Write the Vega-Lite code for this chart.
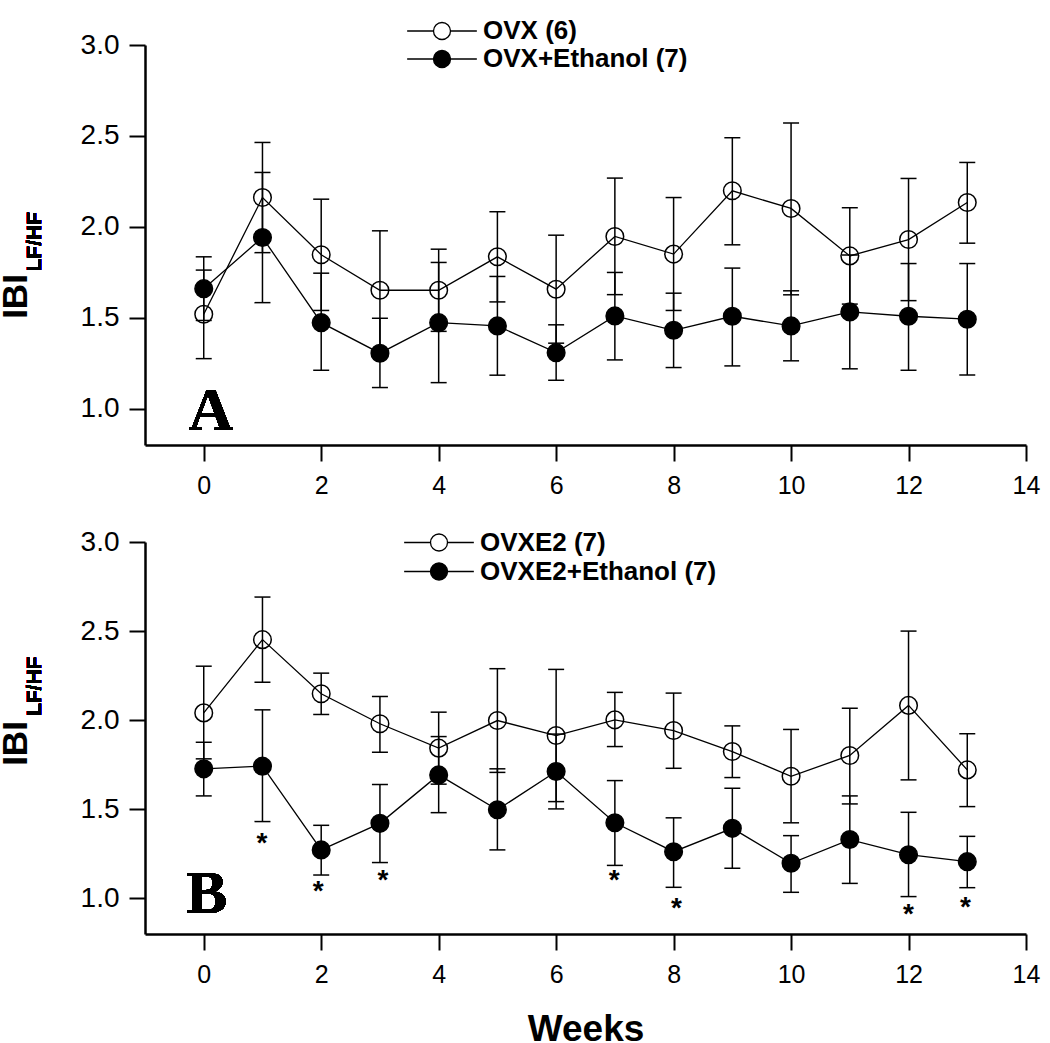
{
  "$schema": "https://vega.github.io/schema/vega-lite/v6.json",
  "background": "white",
  "padding": {"left": -2, "top": 18, "right": 5, "bottom": 0},
  "spacing": 97,
  "bounds": "flush",
  "config": {
    "view": {"stroke": null},
    "font": "Liberation Sans",
    "axis": {"domainColor": "black", "domainWidth": 2.5, "tickColor": "black", "tickWidth": 2, "tickSize": 16, "labelColor": "black", "labelFont": "Liberation Sans", "grid": false, "titleColor": "black", "titleFont": "Liberation Sans", "titleFontWeight": "bold", "labelFlush": false, "labelOverlap": false, "labelBound": false},
    "axisX": {"labelFontSize": 25, "labelPadding": 12, "titleFontSize": 37},
    "axisY": {"labelFontSize": 28, "labelPadding": 10, "titleFontSize": 35},
    "legend": {"labelFont": "Liberation Sans", "labelFontWeight": "bold", "labelFontSize": 26, "labelColor": "black", "labelLimit": 0, "symbolStrokeColor": "black", "symbolStrokeWidth": 1.3, "padding": 0, "offset": 0}
  },
  "resolve": {"scale": {"fill": "independent"}},
  "datasets": {
    "A": [
      {"week": 0, "group": "OVX (6)", "mean": 1.519, "lo": 1.275, "hi": 1.762},
      {"week": 1, "group": "OVX (6)", "mean": 2.161, "lo": 1.858, "hi": 2.464},
      {"week": 2, "group": "OVX (6)", "mean": 1.846, "lo": 1.540, "hi": 2.152},
      {"week": 3, "group": "OVX (6)", "mean": 1.651, "lo": 1.324, "hi": 1.978},
      {"week": 4, "group": "OVX (6)", "mean": 1.651, "lo": 1.425, "hi": 1.877},
      {"week": 5, "group": "OVX (6)", "mean": 1.835, "lo": 1.587, "hi": 2.083},
      {"week": 6, "group": "OVX (6)", "mean": 1.657, "lo": 1.360, "hi": 1.954},
      {"week": 7, "group": "OVX (6)", "mean": 1.947, "lo": 1.627, "hi": 2.268},
      {"week": 8, "group": "OVX (6)", "mean": 1.850, "lo": 1.540, "hi": 2.161},
      {"week": 9, "group": "OVX (6)", "mean": 2.198, "lo": 1.901, "hi": 2.490},
      {"week": 10, "group": "OVX (6)", "mean": 2.101, "lo": 1.626, "hi": 2.571},
      {"week": 11, "group": "OVX (6)", "mean": 1.840, "lo": 1.575, "hi": 2.105},
      {"week": 12, "group": "OVX (6)", "mean": 1.930, "lo": 1.594, "hi": 2.266},
      {"week": 13, "group": "OVX (6)", "mean": 2.134, "lo": 1.910, "hi": 2.354},
      {"week": 0, "group": "OVX+Ethanol (7)", "mean": 1.660, "lo": 1.485, "hi": 1.835},
      {"week": 1, "group": "OVX+Ethanol (7)", "mean": 1.941, "lo": 1.583, "hi": 2.299},
      {"week": 2, "group": "OVX+Ethanol (7)", "mean": 1.473, "lo": 1.211, "hi": 1.745},
      {"week": 3, "group": "OVX+Ethanol (7)", "mean": 1.305, "lo": 1.116, "hi": 1.497},
      {"week": 4, "group": "OVX+Ethanol (7)", "mean": 1.473, "lo": 1.143, "hi": 1.804},
      {"week": 5, "group": "OVX+Ethanol (7)", "mean": 1.455, "lo": 1.184, "hi": 1.727},
      {"week": 6, "group": "OVX+Ethanol (7)", "mean": 1.308, "lo": 1.156, "hi": 1.461},
      {"week": 7, "group": "OVX+Ethanol (7)", "mean": 1.510, "lo": 1.268, "hi": 1.749},
      {"week": 8, "group": "OVX+Ethanol (7)", "mean": 1.431, "lo": 1.226, "hi": 1.635},
      {"week": 9, "group": "OVX+Ethanol (7)", "mean": 1.508, "lo": 1.235, "hi": 1.773},
      {"week": 10, "group": "OVX+Ethanol (7)", "mean": 1.455, "lo": 1.263, "hi": 1.648},
      {"week": 11, "group": "OVX+Ethanol (7)", "mean": 1.532, "lo": 1.219, "hi": 1.845},
      {"week": 12, "group": "OVX+Ethanol (7)", "mean": 1.508, "lo": 1.211, "hi": 1.798},
      {"week": 13, "group": "OVX+Ethanol (7)", "mean": 1.492, "lo": 1.185, "hi": 1.798}
    ],
    "B": [
      {"week": 0, "group": "OVXE2 (7)", "mean": 2.041, "lo": 1.783, "hi": 2.303},
      {"week": 1, "group": "OVXE2 (7)", "mean": 2.452, "lo": 2.213, "hi": 2.691},
      {"week": 2, "group": "OVXE2 (7)", "mean": 2.148, "lo": 2.032, "hi": 2.264},
      {"week": 3, "group": "OVXE2 (7)", "mean": 1.980, "lo": 1.820, "hi": 2.133},
      {"week": 4, "group": "OVXE2 (7)", "mean": 1.843, "lo": 1.641, "hi": 2.045},
      {"week": 5, "group": "OVXE2 (7)", "mean": 1.998, "lo": 1.707, "hi": 2.289},
      {"week": 6, "group": "OVXE2 (7)", "mean": 1.914, "lo": 1.543, "hi": 2.285},
      {"week": 7, "group": "OVXE2 (7)", "mean": 2.002, "lo": 1.852, "hi": 2.156},
      {"week": 8, "group": "OVXE2 (7)", "mean": 1.942, "lo": 1.730, "hi": 2.152},
      {"week": 9, "group": "OVXE2 (7)", "mean": 1.824, "lo": 1.678, "hi": 1.968},
      {"week": 10, "group": "OVXE2 (7)", "mean": 1.685, "lo": 1.424, "hi": 1.948},
      {"week": 11, "group": "OVXE2 (7)", "mean": 1.802, "lo": 1.530, "hi": 2.067},
      {"week": 12, "group": "OVXE2 (7)", "mean": 2.083, "lo": 1.665, "hi": 2.500},
      {"week": 13, "group": "OVXE2 (7)", "mean": 1.721, "lo": 1.515, "hi": 1.924},
      {"week": 0, "group": "OVXE2+Ethanol (7)", "mean": 1.727, "lo": 1.575, "hi": 1.876},
      {"week": 1, "group": "OVXE2+Ethanol (7)", "mean": 1.742, "lo": 1.431, "hi": 2.058},
      {"week": 2, "group": "OVXE2+Ethanol (7)", "mean": 1.272, "lo": 1.131, "hi": 1.410},
      {"week": 3, "group": "OVXE2+Ethanol (7)", "mean": 1.421, "lo": 1.201, "hi": 1.639},
      {"week": 4, "group": "OVXE2+Ethanol (7)", "mean": 1.693, "lo": 1.481, "hi": 1.908},
      {"week": 5, "group": "OVXE2+Ethanol (7)", "mean": 1.497, "lo": 1.272, "hi": 1.727},
      {"week": 6, "group": "OVXE2+Ethanol (7)", "mean": 1.712, "lo": 1.502, "hi": 1.922},
      {"week": 7, "group": "OVXE2+Ethanol (7)", "mean": 1.424, "lo": 1.185, "hi": 1.661},
      {"week": 8, "group": "OVXE2+Ethanol (7)", "mean": 1.262, "lo": 1.062, "hi": 1.452},
      {"week": 9, "group": "OVXE2+Ethanol (7)", "mean": 1.393, "lo": 1.169, "hi": 1.618},
      {"week": 10, "group": "OVXE2+Ethanol (7)", "mean": 1.197, "lo": 1.034, "hi": 1.352},
      {"week": 11, "group": "OVXE2+Ethanol (7)", "mean": 1.330, "lo": 1.084, "hi": 1.575},
      {"week": 12, "group": "OVXE2+Ethanol (7)", "mean": 1.245, "lo": 1.010, "hi": 1.483},
      {"week": 13, "group": "OVXE2+Ethanol (7)", "mean": 1.206, "lo": 1.060, "hi": 1.348}
    ],
    "stars": [
      {"week": 0.99, "y": 1.345},
      {"week": 1.95, "y": 1.073},
      {"week": 3.05, "y": 1.139},
      {"week": 6.99, "y": 1.134},
      {"week": 8.05, "y": 0.980},
      {"week": 12.0, "y": 0.946},
      {"week": 12.97, "y": 0.984}
    ]
  },
  "vconcat": [
    {
      "width": 881,
      "height": 400,
      "data": {"name": "A"},
      "layer": [
        {
          "mark": {"type": "point", "filled": true, "size": 310, "stroke": "black", "strokeWidth": 1.5, "opacity": 1},
          "encoding": {
            "x": {"field": "week", "type": "quantitative", "scale": {"domain": [-1, 14], "nice": false, "zero": false}, "axis": {"values": [0, 2, 4, 6, 8, 10, 12, 14], "format": "d", "title": null}},
            "y": {"field": "mean", "type": "quantitative", "scale": {"domain": [0.8, 3.0], "nice": false, "zero": false}, "axis": {"values": [1.0, 1.5, 2.0, 2.5, 3.0], "format": ".1f", "title": "IBI", "titleX": -119, "titleY": 251, "titleAlign": "center", "titleBaseline": "alphabetic", "titleAngle": 270}},
            "fill": {"field": "group", "type": "nominal", "scale": {"domain": ["OVX (6)", "OVX+Ethanol (7)"], "range": ["white", "black"]}, "legend": {"title": null, "orient": "none", "legendX": 284, "legendY": -27, "symbolType": "M-4.1,0H-1M1,0H4.1M-1,0A1,1,0,1,1,1,0A1,1,0,1,1,-1,0Z", "symbolSize": 289, "labelOffset": 28, "rowPadding": 2}}
          }
        },
        {
          "mark": {"type": "rule", "strokeWidth": 1.5, "color": "black"},
          "encoding": {"x": {"field": "week", "type": "quantitative"}, "y": {"field": "lo", "type": "quantitative"}, "y2": {"field": "hi"}}
        },
        {
          "mark": {"type": "tick", "orient": "horizontal", "size": 16, "thickness": 1.5, "color": "black", "opacity": 1},
          "encoding": {"x": {"field": "week", "type": "quantitative"}, "y": {"field": "lo", "type": "quantitative"}}
        },
        {
          "mark": {"type": "tick", "orient": "horizontal", "size": 16, "thickness": 1.5, "color": "black", "opacity": 1},
          "encoding": {"x": {"field": "week", "type": "quantitative"}, "y": {"field": "hi", "type": "quantitative"}}
        },
        {
          "mark": {"type": "line", "strokeWidth": 1.3, "color": "black"},
          "encoding": {"x": {"field": "week", "type": "quantitative"}, "y": {"field": "mean", "type": "quantitative"}, "detail": {"field": "group"}}
        },
        {
          "mark": {"type": "text", "text": "LF/HF", "angle": 270, "dy": -104, "align": "center", "baseline": "alphabetic", "font": "Liberation Sans", "fontWeight": "bold", "fontSize": 21, "color": "black"},
          "encoding": {"x": {"datum": -1, "type": "quantitative"}, "y": {"datum": 1.918, "type": "quantitative"}}
        },
        {
          "mark": {"type": "text", "text": "A", "align": "center", "baseline": "alphabetic", "font": "Liberation Serif", "fontWeight": "bold", "fontSize": 62, "color": "black"},
          "encoding": {"x": {"datum": 0.12, "type": "quantitative"}, "y": {"datum": 0.882, "type": "quantitative"}}
        }
      ]
    },
    {
      "width": 881,
      "height": 392,
      "data": {"name": "B"},
      "layer": [
        {
          "mark": {"type": "point", "filled": true, "size": 310, "stroke": "black", "strokeWidth": 1.5, "opacity": 1},
          "encoding": {
            "x": {"field": "week", "type": "quantitative", "scale": {"domain": [-1, 14], "nice": false, "zero": false}, "axis": {"values": [0, 2, 4, 6, 8, 10, 12, 14], "format": "d", "title": "Weeks", "titleY": 106, "titleBaseline": "alphabetic"}},
            "y": {"field": "mean", "type": "quantitative", "scale": {"domain": [0.8, 3.0], "nice": false, "zero": false}, "axis": {"values": [1.0, 1.5, 2.0, 2.5, 3.0], "format": ".1f", "title": "IBI", "titleX": -119, "titleY": 201, "titleAlign": "center", "titleBaseline": "alphabetic", "titleAngle": 270}},
            "fill": {"field": "group", "type": "nominal", "scale": {"domain": ["OVXE2 (7)", "OVXE2+Ethanol (7)"], "range": ["white", "black"]}, "legend": {"title": null, "orient": "none", "legendX": 281, "legendY": -12.5, "symbolType": "M-4.1,0H-1M1,0H4.1M-1,0A1,1,0,1,1,1,0A1,1,0,1,1,-1,0Z", "symbolSize": 289, "labelOffset": 28, "rowPadding": 3}}
          }
        },
        {
          "mark": {"type": "rule", "strokeWidth": 1.5, "color": "black"},
          "encoding": {"x": {"field": "week", "type": "quantitative"}, "y": {"field": "lo", "type": "quantitative"}, "y2": {"field": "hi"}}
        },
        {
          "mark": {"type": "tick", "orient": "horizontal", "size": 16, "thickness": 1.5, "color": "black", "opacity": 1},
          "encoding": {"x": {"field": "week", "type": "quantitative"}, "y": {"field": "lo", "type": "quantitative"}}
        },
        {
          "mark": {"type": "tick", "orient": "horizontal", "size": 16, "thickness": 1.5, "color": "black", "opacity": 1},
          "encoding": {"x": {"field": "week", "type": "quantitative"}, "y": {"field": "hi", "type": "quantitative"}}
        },
        {
          "mark": {"type": "line", "strokeWidth": 1.3, "color": "black"},
          "encoding": {"x": {"field": "week", "type": "quantitative"}, "y": {"field": "mean", "type": "quantitative"}, "detail": {"field": "group"}}
        },
        {
          "data": {"name": "stars"},
          "mark": {"type": "text", "text": "*", "align": "center", "baseline": "middle", "dy": 7, "font": "Liberation Sans", "fontWeight": "bold", "fontSize": 28, "color": "black"},
          "encoding": {"x": {"field": "week", "type": "quantitative"}, "y": {"field": "y", "type": "quantitative"}}
        },
        {
          "mark": {"type": "text", "text": "LF/HF", "angle": 270, "dy": -104, "align": "center", "baseline": "alphabetic", "font": "Liberation Sans", "fontWeight": "bold", "fontSize": 21, "color": "black"},
          "encoding": {"x": {"datum": -1, "type": "quantitative"}, "y": {"datum": 2.19, "type": "quantitative"}}
        },
        {
          "mark": {"type": "text", "text": "B", "align": "center", "baseline": "alphabetic", "font": "Liberation Serif", "fontWeight": "bold", "fontSize": 62, "color": "black"},
          "encoding": {"x": {"datum": 0.05, "type": "quantitative"}, "y": {"datum": 0.916, "type": "quantitative"}}
        }
      ]
    }
  ]
}
